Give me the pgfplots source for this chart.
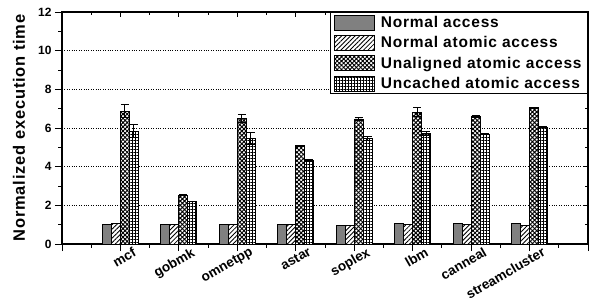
\documentclass[border=0pt]{standalone}
\usepackage{pgfplots}
\pgfplotsset{compat=1.18}
\usepackage{fontspec}
\setmainfont{Liberation Sans}
\newfontfamily\lsfont[LetterSpace=5]{Liberation Sans}
\usetikzlibrary{patterns.meta}

\begin{document}
\begin{tikzpicture}
\path[use as bounding box] (-62pt,-61pt) rectangle (527pt,244pt);
% mirror ticks on top and right (inside)
\begin{axis}[
  at={(0pt,0pt)}, anchor=south west,
  scale only axis, width=526pt, height=232pt,
  xmin=0, xmax=9, ymin=0, ymax=12,
  xtick={0,...,9}, minor x tick num=1,
  ytick={0,2,...,12}, minor y tick num=1,
  tick pos=right, tick align=inside,
  xticklabels={}, yticklabels={},
  axis line style={line width=1.1pt},
  major tick length=5pt, minor tick length=3pt,
  tick style={line width=0.8pt, black},
]
\end{axis}
\begin{axis}[
  at={(0pt,0pt)}, anchor=south west,
  scale only axis, width=526pt, height=232pt,
  xmin=0, xmax=9, ymin=0, ymax=12,
  ybar=0pt, bar width=9pt,
  xtick={0,...,9}, minor x tick num=1,
  xticklabels={,mcf,gobmk,omnetpp,astar,soplex,lbm,canneal,streamcluster,},
  ytick={0,2,...,12}, minor y tick num=1,
  tick pos=left, tick align=outside,
  major tick length=7pt, minor tick length=3.5pt,
  tick style={line width=0.8pt, black},
  axis line style={line width=1.1pt},
  ymajorgrids, grid style={dotted, black, line width=0.7pt},
  /pgf/number format/assume math mode=true,
  yticklabel style={font=\bfseries\fontsize{12}{13}\selectfont},
  xticklabel style={font=\bfseries\fontsize{13.5}{14}\selectfont, rotate=30, anchor=north east, xshift=15.8pt, yshift=1.3pt},
  ylabel={Normalized execution time},
  ylabel style={font=\lsfont\bfseries\fontsize{16.5}{17}\selectfont, at={(axis description cs:-0.082,0.5)}, anchor=center},
  mylegend/.style={legend image code/.code={\draw[##1, line width=0.8pt] (0pt,-7.5pt) rectangle (40pt,7.5pt);}},
  legend style={at={(1,1)}, anchor=north east, draw=black, line width=0.9pt,
    font=\lsfont\bfseries\fontsize{15.5}{16}\selectfont, row sep=3.5pt, column sep=4pt,
    inner xsep=4pt, inner ysep=2pt, cells={anchor=west}},
  legend cell align=left,
  error bars/y dir=both, error bars/y explicit,
  error bars/error bar style={solid, black, line width=1pt},
  error bars/error mark options={solid, black, rotate=90, mark size=4pt, line width=1pt},
]
\addplot[mylegend, draw=black, line width=0.8pt, fill={rgb,255:red,128;green,128;blue,128}]
coordinates {(1,1.00) +- (0,0) (2,1.00) +- (0,0) (3,1.00) +- (0,0) (4,1.00) +- (0,0)
 (5,0.97) +- (0,0) (6,1.04) +- (0,0) (7,1.05) +- (0,0) (8,1.05) +- (0,0)};
\addplot[mylegend, draw=black, line width=0.8pt, preaction={fill=white}, pattern={Lines[angle=45,distance=3.2pt,line width=0.85pt]}]
coordinates {(1,1.05) +- (0,0) (2,1.00) +- (0,0) (3,1.00) +- (0,0) (4,1.00) +- (0,0)
 (5,0.97) +- (0,0) (6,1.02) +- (0,0) (7,1.00) +- (0,0) (8,0.97) +- (0,0)};
\addplot[mylegend, draw=black, line width=0.8pt, preaction={fill=white}, pattern={Hatch[angle=45,distance=3pt,line width=0.95pt]}]
coordinates {(1,6.87) +- (0,0.34) (2,2.53) +- (0,0.03) (3,6.50) +- (0,0.19) (4,5.08) +- (0,0.03)
 (5,6.47) +- (0,0.08) (6,6.82) +- (0,0.22) (7,6.59) +- (0,0.05) (8,7.05) +- (0,0.02)};
\addplot[mylegend, draw=black, line width=0.8pt, preaction={fill=white}, pattern={Hatch[angle=0,distance=3pt,line width=0.8pt]}]
coordinates {(1,5.83) +- (0,0.33) (2,2.20) +- (0,0.02) (3,5.47) +- (0,0.32) (4,4.32) +- (0,0.03)
 (5,5.45) +- (0,0.10) (6,5.72) +- (0,0.12) (7,5.69) +- (0,0.05) (8,6.05) +- (0,0.03)};
\legend{Normal access, Normal atomic access, Unaligned atomic access, Uncached atomic access}
\end{axis}
\end{tikzpicture}
\end{document}
